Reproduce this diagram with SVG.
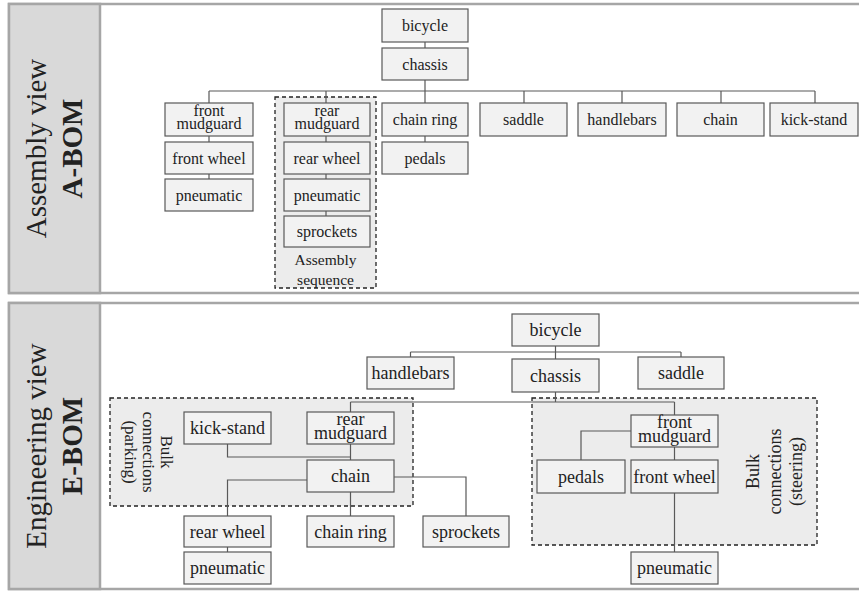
<svg xmlns="http://www.w3.org/2000/svg" width="859" height="591" viewBox="0 0 859 591">
<style>
.panel{fill:#fff;stroke:#a6a6a6;stroke-width:2.5}
.lab{fill:#d9d9d9;stroke:#a6a6a6;stroke-width:2.5}
.bx{fill:#f2f2f2;stroke:#595959;stroke-width:1.2}
.grp{fill:#ececec;stroke:#222;stroke-width:1.3;stroke-dasharray:4 3}
.cn{fill:none;stroke:#595959;stroke-width:1.2}
text{font-family:"Liberation Serif","Times New Roman",serif;fill:#222;text-anchor:middle}
.s{font-size:16px}
.m{font-size:18px}
.big{font-size:29px}
.bold{font-weight:bold}
</style>
<g id="panel-top">
<rect class="panel" x="9" y="4" width="855" height="289"/>
<rect class="lab" x="9" y="4" width="91" height="289"/>
<text class="big" transform="translate(46,148.5) rotate(-90)">Assembly view</text>
<text class="big bold" transform="translate(82,148.5) rotate(-90)">A-BOM</text>
</g>
<g id="panel-bottom">
<rect class="panel" x="9" y="303" width="855" height="286"/>
<rect class="lab" x="9" y="303" width="91" height="286"/>
<text class="big" transform="translate(46,446) rotate(-90)">Engineering view</text>
<text class="big bold" transform="translate(82,446) rotate(-90)">E-BOM</text>
</g>
<g id="group-assembly-sequence">
<rect class="grp" x="275" y="97" width="101" height="191"/>
<text style="font-size:15.5px" x="325.5" y="265">Assembly</text>
<text style="font-size:15.5px" x="325.5" y="285">sequence</text>
</g>
<g id="group-parking">
<rect class="grp" x="110" y="398" width="303" height="108"/>
<text style="font-size:17px" transform="translate(161,452) rotate(90)"><tspan x="0" y="0">Bulk</tspan><tspan x="0" y="18">connections</tspan><tspan x="0" y="36">(parking)</tspan></text>
</g>
<g id="group-steering">
<rect class="grp" x="532" y="398" width="285" height="147"/>
<text class="m" transform="translate(759,471.5) rotate(-90)"><tspan x="0" y="0">Bulk</tspan><tspan x="0" y="22">connections</tspan><tspan x="0" y="43">(steering)</tspan></text>
</g>
<g id="connectors">
<path class="cn" d="M425 42V48M425 80V91M209 91H815M209 91V103M326 91V103M425 91V103M524 91V103M622 91V103M721 91V103M815 91V103M209 136V142M209 174V179M326 136V142M326 174V179M326 211V216M425 136V142"/>
<path class="cn" d="M555.5 346V352M410.5 352H681M410.5 352V357M555.5 352V359M681 352V357M555.5 392V402M350.5 402H674.5M350.5 402V412M674.5 402V415M350.5 444V460M227.5 444V457H350.5M307 480H227.5V516M350.5 492V516M394 477H466V516M227.5 547V552M631 431H581V460M674.5 447V460M674.5 493V552"/>
</g>
<g id="a-bicycle"><rect class="bx" x="382" y="9" width="86" height="33"/><text class="s" x="425" y="31">bicycle</text></g>
<g id="a-chassis"><rect class="bx" x="382" y="48" width="86" height="32"/><text class="s" x="425" y="69.5">chassis</text></g>
<g id="a-front-mudguard"><rect class="bx" x="165" y="103" width="88" height="33"/><text class="s" x="209" y="115.5">front</text><text class="s" x="209" y="129">mudguard</text></g>
<g id="a-front-wheel"><rect class="bx" x="165" y="142" width="88" height="32"/><text class="s" x="209" y="163.5">front wheel</text></g>
<g id="a-front-pneumatic"><rect class="bx" x="165" y="179" width="88" height="32"/><text class="s" x="209" y="200.5">pneumatic</text></g>
<g id="a-rear-mudguard"><rect class="bx" x="284" y="103" width="86" height="33"/><text class="s" x="327" y="115.5">rear</text><text class="s" x="327" y="129">mudguard</text></g>
<g id="a-rear-wheel"><rect class="bx" x="284" y="142" width="86" height="32"/><text class="s" x="327" y="163.5">rear wheel</text></g>
<g id="a-rear-pneumatic"><rect class="bx" x="284" y="179" width="86" height="32"/><text class="s" x="327" y="200.5">pneumatic</text></g>
<g id="a-sprockets"><rect class="bx" x="284" y="216" width="86" height="31"/><text class="s" x="327" y="237">sprockets</text></g>
<g id="a-chain-ring"><rect class="bx" x="382" y="103" width="86" height="33"/><text class="s" x="425" y="125">chain ring</text></g>
<g id="a-pedals"><rect class="bx" x="382" y="142" width="86" height="32"/><text class="s" x="425" y="163.5">pedals</text></g>
<g id="a-saddle"><rect class="bx" x="480" y="103" width="87" height="33"/><text class="s" x="523.5" y="125">saddle</text></g>
<g id="a-handlebars"><rect class="bx" x="578" y="103" width="88" height="33"/><text class="s" x="622" y="125">handlebars</text></g>
<g id="a-chain"><rect class="bx" x="677" y="103" width="87" height="33"/><text class="s" x="720.5" y="125">chain</text></g>
<g id="a-kick-stand"><rect class="bx" x="770" y="103" width="88" height="33"/><text class="s" x="814" y="125">kick-stand</text></g>
<g id="e-bicycle"><rect class="bx" x="512" y="314" width="87" height="32"/><text class="m" x="555.5" y="336">bicycle</text></g>
<g id="e-handlebars"><rect class="bx" x="367" y="357" width="87" height="32"/><text class="m" x="410.5" y="379">handlebars</text></g>
<g id="e-chassis"><rect class="bx" x="512" y="359" width="87" height="33"/><text class="m" x="555.5" y="381.5">chassis</text></g>
<g id="e-saddle"><rect class="bx" x="638" y="357" width="86" height="32"/><text class="m" x="681" y="379">saddle</text></g>
<g id="e-kick-stand"><rect class="bx" x="184" y="412" width="87" height="32"/><text class="m" x="227.5" y="434">kick-stand</text></g>
<g id="e-rear-mudguard"><rect class="bx" x="307" y="412" width="87" height="32"/><text class="m" x="350.5" y="425">rear</text><text class="m" x="350.5" y="439">mudguard</text></g>
<g id="e-chain"><rect class="bx" x="307" y="460" width="87" height="32"/><text class="m" x="350.5" y="482">chain</text></g>
<g id="e-rear-wheel"><rect class="bx" x="184" y="516" width="87" height="31"/><text class="m" x="227.5" y="537.5">rear wheel</text></g>
<g id="e-rear-pneumatic"><rect class="bx" x="184" y="552" width="87" height="32"/><text class="m" x="227.5" y="574">pneumatic</text></g>
<g id="e-chain-ring"><rect class="bx" x="307" y="516" width="87" height="31"/><text class="m" x="350.5" y="537.5">chain ring</text></g>
<g id="e-sprockets"><rect class="bx" x="423" y="516" width="86" height="31"/><text class="m" x="466" y="537.5">sprockets</text></g>
<g id="e-front-mudguard"><rect class="bx" x="631" y="415" width="87" height="32"/><text class="m" x="674.5" y="428">front</text><text class="m" x="674.5" y="442">mudguard</text></g>
<g id="e-pedals"><rect class="bx" x="537" y="460" width="88" height="33"/><text class="m" x="581" y="482.5">pedals</text></g>
<g id="e-front-wheel"><rect class="bx" x="631" y="460" width="87" height="33"/><text class="m" x="674.5" y="482.5">front wheel</text></g>
<g id="e-front-pneumatic"><rect class="bx" x="631" y="552" width="87" height="32"/><text class="m" x="674.5" y="574">pneumatic</text></g>
</svg>
